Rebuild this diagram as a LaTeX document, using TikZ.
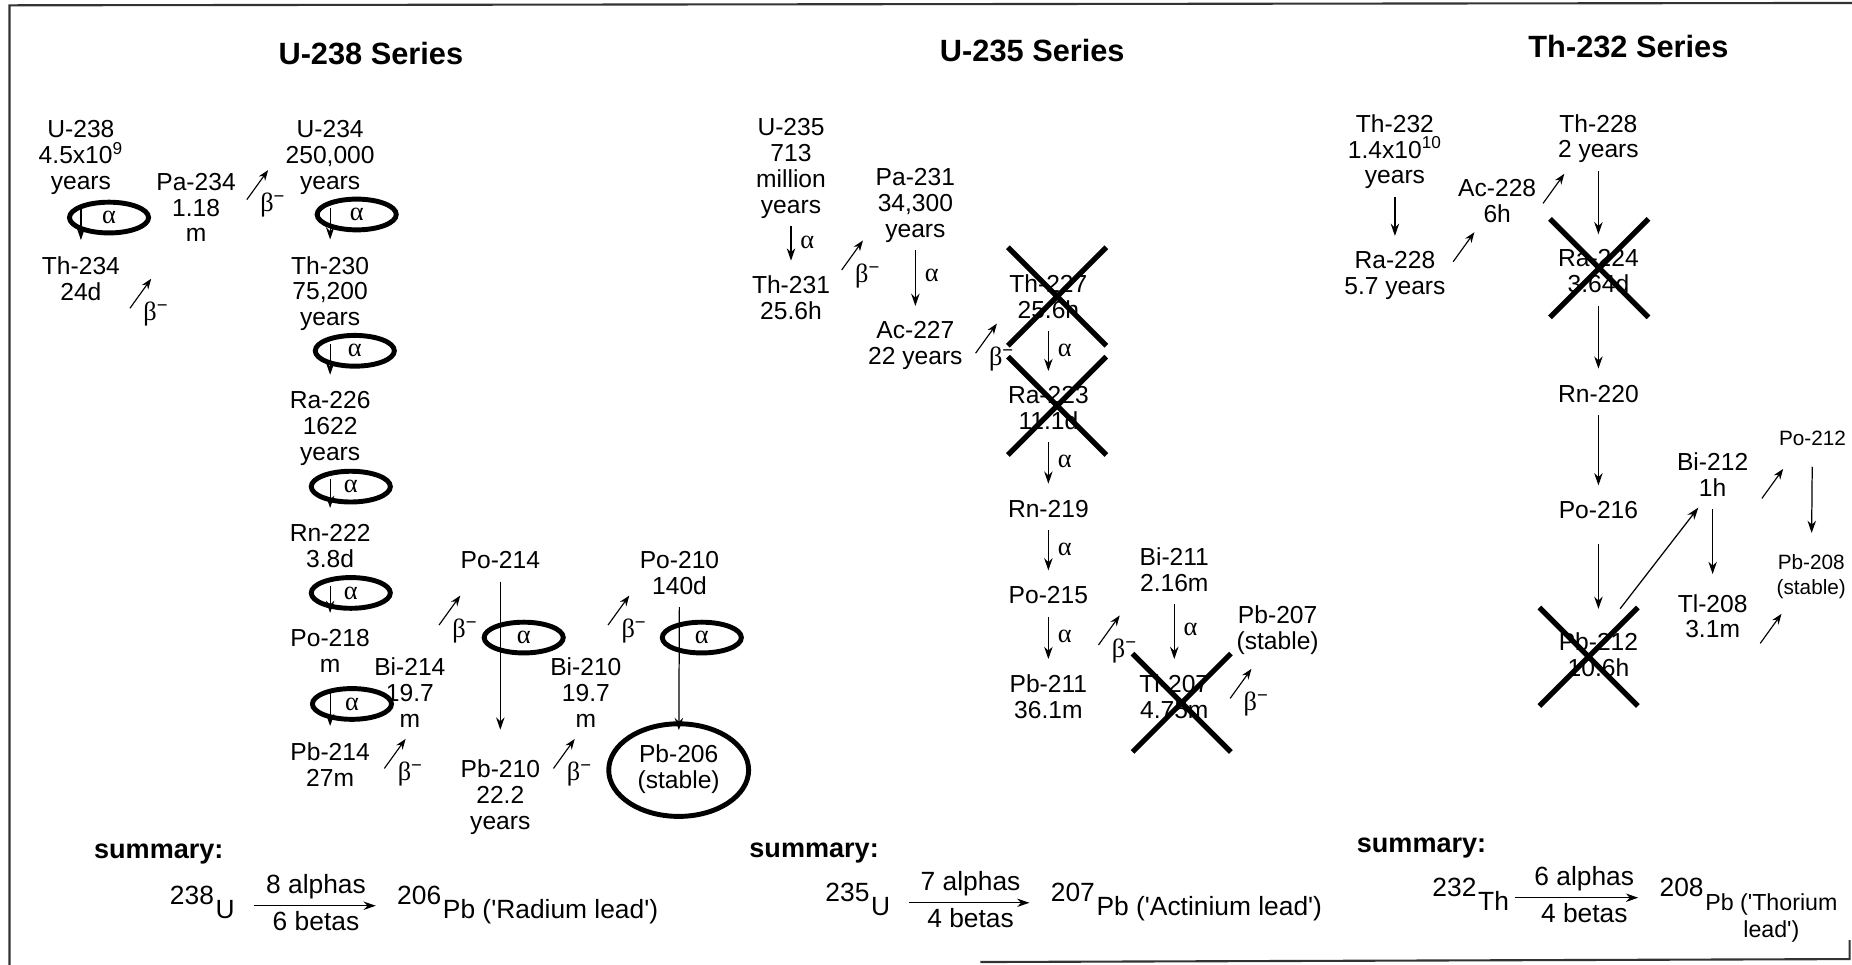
\documentclass[tikz,border=0pt]{standalone}
\usepackage{fontspec}
\setmainfont{Liberation Sans}
\newfontfamily\greekfont{Liberation Serif}
\usetikzlibrary{positioning, shapes.geometric, shapes.misc, arrows.meta, calc}

\tikzset{
  nuc/.style={align=center, inner sep=0pt, outer sep=0pt, font=\fontsize{14}{14.7}\selectfont,
    execute at begin node=\strut, execute at end node=\strut},
  nucsmall/.style={nuc, font=\fontsize{11.8}{14}\selectfont},
  pbstable/.style={ellipse, draw, line width=2.8pt, minimum width=79.6pt, minimum height=52.7pt},
  decay/.style={-{Stealth[length=7pt,width=4.8pt]}, line width=0.7pt, shorten <=3pt, shorten >=8.7pt},
  betaarr/.style={-{Stealth[length=6pt,width=4.4pt]}, line width=0.65pt},
  betalbl/.style={inner sep=0pt, font=\fontsize{15}{15}\selectfont},
  alphalbl/.style={right=5pt, inner sep=0pt, font=\fontsize{15}{15}\selectfont},
  loopmark/.style={ellipse, draw, line width=2.8pt, minimum width=45pt, minimum height=17.5pt,
    inner sep=0pt, outer sep=0pt, font=\fontsize{15}{15}\selectfont},
  xout/.style={cross out, draw, line width=3pt, minimum width=53pt, minimum height=53pt, inner sep=0pt},
  seriestitle/.style={font=\fontsize{17.5}{20}\selectfont\bfseries},
  sumhead/.style={anchor=base west, inner sep=0pt, font=\fontsize{15.4}{17}\selectfont\bfseries},
  iso/.style={anchor=base west, inner sep=0pt, font=\fontsize{15}{15.3}\selectfont},
  sumlbl/.style={inner sep=0pt, font=\fontsize{15}{15.3}\selectfont},
  sumarr/.style={-{Stealth[length=7pt,width=4.8pt]}, line width=0.7pt, shorten <=10.5pt, shorten >=12pt},
  framecol/.style={line width=1.2pt, black!80},
}
\newcommand{\mass}[1]{\raisebox{8.2pt}{#1}\kern1pt}
\newcommand{\alp}{{\greekfont α}}
\newcommand{\bet}{{\greekfont β}\textsuperscript{−}}

\begin{document}
\begin{tikzpicture}[x=0.2362mm, y=-0.2362mm]
\useasboundingbox (0,0) rectangle (1568,817);

% frame
\draw[framecol] (8,817) -- (8,4.5) -- (1568,2.5);
\draw[framecol] (830,814.5) -- (1566,812) -- (1566,796);

% U-238 Series
\node[seriestitle] (t238) at (314,45.5) {U-238 Series};
\node[nuc] (u238) at (68.5,134.7) {U-238\\4.5x10\textsuperscript{9}\\years};
\node[nuc] (th234) at (68.5,239.1) {Th-234\\24d};
\node[nuc] (pa234) at (166,179) {Pa-234\\1.18\\m};
\node[nuc] (u234) at (279.5,134.7) {U-234\\250,000\\years};
\node[nuc] (th230) at (279.5,249.6) {Th-230\\75,200\\years};
\node[nuc] (ra226) at (279.5,363.9) {Ra-226\\1622\\years};
\node[nuc] (rn222) at (279.5,465.7) {Rn-222\\3.8d};
\node[nuc] (po218) at (279.5,554.6) {Po-218\\m};
\node[nuc] (pb214) at (279.5,650.6) {Pb-214\\27m};
\node[nuc] (bi214) at (347,589.7) {Bi-214\\19.7\\m};
\node[nuc] (po214) at (423.6,477) {Po-214};
\node[nuc] (pb210) at (423.6,675.8) {Pb-210\\22.2\\years};
\node[nuc] (bi210) at (496,589.7) {Bi-210\\19.7\\m};
\node[nuc] (po210) at (575.3,488.1) {Po-210\\140d};
\node[nuc, pbstable] (pb206) at (574.6,652) {Pb-206\\(stable)};

% alpha steps
\foreach \a/\b in {u238/th234, u234/th230, th230/ra226, ra226/rn222, rn222/po218, po218/pb214}
  \draw[decay, shorten <=6.2pt, shorten >=9.5pt] (\a) -- (\b);
\draw[decay, shorten >=17pt] (po214) -- (pb210);
\draw[decay, shorten >=-3.6pt] (po210) -- (pb206);

% beta steps
\foreach \n/\bx/\by in {bthpa/110/261, bpau/209/169, bpbbi/325.4/650.6, bbipo/371.7/529.2, bpbbib/468.6/650.6, bbipob/514.8/529.2} {
  \coordinate (\n) at (\bx,\by);
  \draw[betaarr] (\n) -- ++(18,-25);
  \node[betalbl] (\n-lbl) at ([shift={(22,5)}]\n) {\bet};
}

% circled alphas
\foreach \n/\ex/\ey in {a1/92.3/184.2, a2/302/181.6, a3/300.4/297, a4/297/412, a5/297/502, a6/298/596, a7/443.4/539.8, a8/594.2/539.8}
  \node[loopmark] (\n) at (\ex,\ey) {\alp};

% U-235 Series
\node[seriestitle] (t235) at (874,43) {U-235 Series};
\node[nuc] (u235) at (669.7,143.6) {U-235\\713\\million\\years};
\node[nuc] (th231) at (669.7,255.4) {Th-231\\25.6h};
\node[nuc] (pa231) at (775,174.8) {Pa-231\\34,300\\years};
\node[nuc] (ac227) at (775,293.5) {Ac-227\\22 years};
\node[nuc] (th227) at (887.6,254.1) {Th-227\\25.6h};
\node[nuc] (ra223) at (887.6,348.6) {Ra-223\\11.1d};
\node[nuc] (rn219) at (887.6,433.4) {Rn-219};
\node[nuc] (po215) at (887.6,506.8) {Po-215};
\node[nuc] (pb211) at (887.6,592.7) {Pb-211\\36.1m};
\node[nuc] (bi211) at (994.2,485.5) {Bi-211\\2.16m};
\node[nuc] (tl207) at (994.2,592.7) {Tl-207\\4.75m};
\node[nuc] (pb207) at (1081.7,534.8) {Pb-207\\(stable)};

\foreach \a/\b in {u235/th231, pa231/ac227, th227/ra223, ra223/rn219, rn219/po215, po215/pb211, bi211/tl207}
  \draw[decay] (\a) -- (\b) node[pos=0.4, alphalbl] {\alp};

\foreach \n/\bx/\by in {bthpa5/712.6/228.6, bacth/826/299, bpbbi5/930/546.1, btlpb/1041.5/591.3} {
  \coordinate (\n) at (\bx,\by);
  \draw[betaarr] (\n) -- ++(18,-25);
  \node[betalbl] (\n-lbl) at ([shift={(22,5)}]\n) {\bet};
}

% Th-232 Series
\node[seriestitle] (t232) at (1378.7,39.5) {Th-232 Series};
\node[nuc] (th232) at (1181,129.6) {Th-232\\1.4x10\textsuperscript{10}\\years};
\node[nuc] (ra228) at (1181,234.2) {Ra-228\\5.7 years};
\node[nuc] (ac228) at (1267.6,173.6) {Ac-228\\6h};
\node[nuc] (th228) at (1353.3,118.5) {Th-228\\2 years};
\node[nuc] (ra224) at (1353.3,232.8) {Ra-224\\3.64d};
\node[nuc] (rn220) at (1353.3,336) {Rn-220};
\node[nuc] (po216) at (1353.3,434.8) {Po-216};
\node[nuc] (pb212) at (1353.3,557.4) {Pb-212\\10.6h};
\node[nuc] (bi212) at (1450,405) {Bi-212\\1h};
\node[nuc] (tl208) at (1450,524.9) {Tl-208\\3.1m};
\node[nucsmall] (po212) at (1534.5,373.3) {Po-212};
\node[nucsmall] (pb208) at (1533.5,489.6) {Pb-208\\(stable)};

\foreach \a/\b in {th232/ra228, th228/ra224, ra224/rn220, rn220/po216}
  \draw[decay] (\a) -- (\b);
\draw[decay, shorten <=10pt, shorten >=13.5pt] (po216) -- (pb212);
\draw[decay, shorten >=11.5pt] (bi212) -- (tl208);
\draw[decay, shorten <=7.7pt, shorten >=12.4pt] (po212) -- (pb208);
\draw[decay, shorten <=0pt, shorten >=0pt] ([shift={(18.4,-20.3)}]pb212.north) -- ([shift={(18,3)}]bi212.south west);

\foreach \n/\bx/\by in {bra/1230.3/221.6, bac/1306.4/172.2, bbi/1491.7/422, btl/1490.3/544.7} {
  \coordinate (\n) at (\bx,\by);
  \draw[betaarr] (\n) -- ++(18,-25);
}

% crossed out nuclides
\foreach \n/\cx/\cy in {xth227/895/251, xra223/895/343.6, xtl207/1000.5/595, xra224/1354/227, xpb212/1345/556}
  \node[xout] (\n) at (\cx,\cy) {};

% summaries
\node[sumhead] (sum1) at (79.4,727) {summary:};
\node[iso] (s1l) at (143.6,778) {\mass{238}U};
\node[iso] (s1r) at (336,778) {\mass{206}Pb (\textquotesingle Radium lead\textquotesingle)};
\draw[sumarr] ([yshift=7.5pt]s1l.base east) -- ([yshift=7.5pt]s1r.base west)
  node[midway, sumlbl, above=3.5pt] {8 alphas} node[midway, sumlbl, below=3pt] {6 betas};

\node[sumhead] (sum2) at (634.2,725.6) {summary:};
\node[iso] (s2l) at (698.6,775.5) {\mass{235}U};
\node[iso] (s2r) at (889.4,775.5) {\mass{207}Pb (\textquotesingle Actinium lead\textquotesingle)};
\draw[sumarr] ([yshift=7.5pt]s2l.base east) -- ([yshift=7.5pt]s2r.base west)
  node[midway, sumlbl, above=3.5pt] {7 alphas} node[midway, sumlbl, below=3pt] {4 betas};

\node[sumhead] (sum3) at (1148.5,721.4) {summary:};
\node[iso] (s3l) at (1212.5,771.2) {\mass{232}Th};
\node[iso] (s3r) at (1404.8,771.2) {\mass{208}{\fontsize{13.2}{15.3}\selectfont\begin{tabular}[t]{@{}c@{}}Pb (\textquotesingle Thorium\\lead\textquotesingle)\end{tabular}}};
\draw[sumarr, shorten <=3pt] ([yshift=7.5pt]s3l.base east) -- ([yshift=7.5pt]s3r.base west)
  node[midway, sumlbl, above=3.5pt] {6 alphas} node[midway, sumlbl, below=3pt] {4 betas};

\end{tikzpicture}
\end{document}
